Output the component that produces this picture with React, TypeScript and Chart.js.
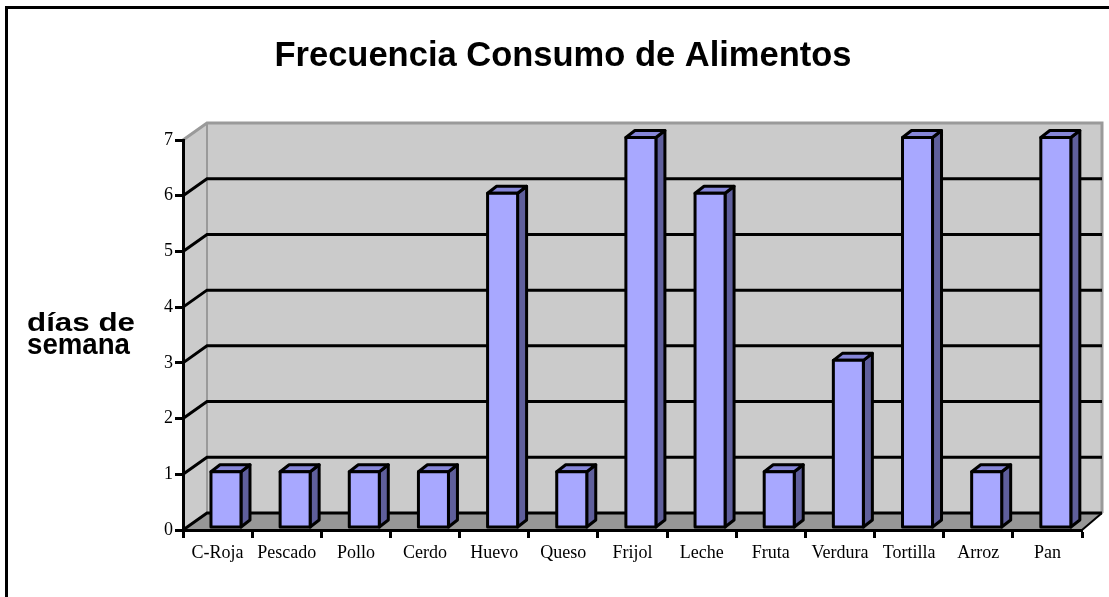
import React, { useEffect, useRef } from "react";
import { Chart, registerables } from "chart.js";

Chart.register(...registerables);

const categories = ["C-Roja", "Pescado", "Pollo", "Cerdo", "Huevo", "Queso", "Frijol", "Leche", "Fruta", "Verdura", "Tortilla", "Arroz", "Pan"];
const values = [1, 1, 1, 1, 6, 1, 7, 6, 1, 3, 7, 1, 7];
const yMin = 0;
const yMax = 7;
const yStep = 1;
const titleText = "Frecuencia Consumo de Alimentos";
const yTitleLines = ["días de", "semana"];

const W = 1109;
const H = 597;
const DXL = 24;
const DXR = 20;
const DY = -17;
const WALL = "#cbcbcb";
const FLOOR = "#979797";
const EDGE = "#9a9a9a";
const BAR_FRONT = "#a8a8ff";
const BAR_TOP = "#8686d8";
const BAR_SIDE = "#5f5f9c";
const BAR_SHIFT_X = 8.4;
const BAR_SHIFT_Y = -2.5;
const BAR_DX = 9;
const BAR_DY = -7;
const SERIF = '"Liberation Serif", "Times New Roman", serif';
const SANS = '"Liberation Sans", Arial, sans-serif';

const threeD = {
  id: "threeD",
  beforeDraw(chart: any) {
    const { ctx, chartArea } = chart;
    const { left, right, top, bottom } = chartArea;
    const y = chart.scales.y;
    const bl = left + DXL;
    const br = right + DXR;
    ctx.save();
    // left wall
    ctx.fillStyle = WALL;
    ctx.beginPath();
    ctx.moveTo(left, top);
    ctx.lineTo(bl, top + DY);
    ctx.lineTo(bl, bottom + DY);
    ctx.lineTo(left, bottom);
    ctx.closePath();
    ctx.fill();
    // back wall
    ctx.fillRect(bl, top + DY, br - bl, bottom - top);
    // floor
    ctx.fillStyle = FLOOR;
    ctx.beginPath();
    ctx.moveTo(left, bottom);
    ctx.lineTo(right, bottom);
    ctx.lineTo(br, bottom + DY);
    ctx.lineTo(bl, bottom + DY);
    ctx.closePath();
    ctx.fill();
    // wall edges
    ctx.strokeStyle = EDGE;
    ctx.lineWidth = 3;
    ctx.beginPath();
    ctx.moveTo(left, top);
    ctx.lineTo(bl, top + DY);
    ctx.lineTo(br, top + DY);
    ctx.lineTo(br, bottom + DY);
    ctx.stroke();
    ctx.lineWidth = 2;
    ctx.beginPath();
    ctx.moveTo(bl, top + DY);
    ctx.lineTo(bl, bottom + DY);
    ctx.stroke();
    // gridlines
    ctx.strokeStyle = "#000";
    ctx.lineWidth = 3;
    y.ticks.forEach((t: any) => {
      if (t.value >= y.max) return;
      const py = y.getPixelForValue(t.value);
      ctx.beginPath();
      ctx.moveTo(left, py);
      ctx.lineTo(bl, py + DY);
      ctx.lineTo(br, py + DY);
      ctx.stroke();
    });
    // floor right edge
    ctx.lineWidth = 2;
    ctx.beginPath();
    ctx.moveTo(right, bottom);
    ctx.lineTo(br, bottom + DY);
    ctx.stroke();
    ctx.restore();
  },
  afterDatasetsDraw(chart: any) {
    const { ctx } = chart;
    const meta = chart.getDatasetMeta(0);
    ctx.save();
    ctx.lineWidth = 3;
    ctx.lineJoin = "round";
    ctx.strokeStyle = "#000";
    meta.data.forEach((el: any) => {
      const p = el.getProps(["x", "y", "base", "width"], true);
      const l = p.x - p.width / 2 + BAR_SHIFT_X;
      const r = l + p.width;
      const t = p.y + BAR_SHIFT_Y;
      const b = p.base + BAR_SHIFT_Y;
      // side
      ctx.fillStyle = BAR_SIDE;
      ctx.beginPath();
      ctx.moveTo(r, t);
      ctx.lineTo(r + BAR_DX, t + BAR_DY);
      ctx.lineTo(r + BAR_DX, b + BAR_DY);
      ctx.lineTo(r, b);
      ctx.closePath();
      ctx.fill();
      ctx.stroke();
      // top
      ctx.fillStyle = BAR_TOP;
      ctx.beginPath();
      ctx.moveTo(l, t);
      ctx.lineTo(l + BAR_DX, t + BAR_DY);
      ctx.lineTo(r + BAR_DX, t + BAR_DY);
      ctx.lineTo(r, t);
      ctx.closePath();
      ctx.fill();
      ctx.stroke();
      // front
      ctx.fillStyle = BAR_FRONT;
      ctx.beginPath();
      ctx.rect(l, t, r - l, b - t);
      ctx.fill();
      ctx.stroke();
    });
    ctx.restore();
  },
  afterDraw(chart: any) {
    const { ctx } = chart;
    ctx.save();
    // outer border
    ctx.strokeStyle = "#000";
    ctx.lineWidth = 3;
    ctx.beginPath();
    ctx.moveTo(6.5, H + 5);
    ctx.lineTo(6.5, 7.5);
    ctx.lineTo(W + 5, 7.5);
    ctx.stroke();
    // title
    ctx.fillStyle = "#000";
    ctx.font = `bold 34.5px ${SANS}`;
    ctx.textAlign = "center";
    ctx.textBaseline = "alphabetic";
    ctx.fillText(titleText, 563, 66);
    // y axis title
    ctx.textAlign = "left";
    const specs = [
      { size: 26, base: 331, width: 108 },
      { size: 29, base: 354, width: 103 },
    ];
    yTitleLines.forEach((line, i) => {
      const s = specs[i];
      ctx.font = `bold ${s.size}px ${SANS}`;
      const m = ctx.measureText(line).width;
      const k = s.width / m;
      ctx.save();
      ctx.translate(27, s.base);
      ctx.scale(k, 1);
      ctx.fillText(line, 0, 0);
      ctx.restore();
    });
    ctx.restore();
  },
};

export default function App() {
  const ref = useRef<HTMLCanvasElement>(null);
  useEffect(() => {
    if (!ref.current) return;
    const chart = new Chart(ref.current, {
      type: "bar",
      data: {
        labels: categories,
        datasets: [
          {
            data: values,
            backgroundColor: "rgba(0,0,0,0)",
            borderWidth: 0,
            categoryPercentage: 1,
            barPercentage: 0.434,
          },
        ],
      },
      options: {
        responsive: false,
        animation: false,
        devicePixelRatio: 1,
        layout: { padding: { left: 143, top: 140, right: 27, bottom: 27 } },
        plugins: {
          legend: { display: false },
          title: { display: false },
          tooltip: { enabled: false },
        },
        scales: {
          x: {
            offset: true,
            grid: {
              offset: true,
              drawOnChartArea: false,
              drawTicks: true,
              tickLength: 8,
              tickWidth: 3,
              tickColor: "#000",
            },
            border: { display: true, width: 3, color: "#000" },
            ticks: {
              color: "#000",
              font: { family: SERIF, size: 18 },
              padding: 4,
              maxRotation: 0,
              minRotation: 0,
              autoSkip: false,
            },
            afterFit: (scale: any) => {
              scale.height = 40;
            },
          },
          y: {
            min: yMin,
            max: yMax,
            grid: {
              drawOnChartArea: false,
              drawTicks: true,
              tickLength: 8,
              tickWidth: 3,
              tickColor: "#000",
            },
            border: { display: true, width: 3, color: "#000" },
            ticks: {
              stepSize: yStep,
              color: "#000",
              font: { family: SERIF, size: 18 },
              padding: 2,
            },
            afterFit: (scale: any) => {
              scale.width = 40;
            },
          },
        },
      },
      plugins: [threeD],
    });
    return () => chart.destroy();
  }, []);
  return (
    <div style={{ position: "absolute", left: 0, top: 0, width: W, height: H, background: "#fff" }}>
      <canvas ref={ref} width={W} height={H} style={{ display: "block" }} />
    </div>
  );
}
